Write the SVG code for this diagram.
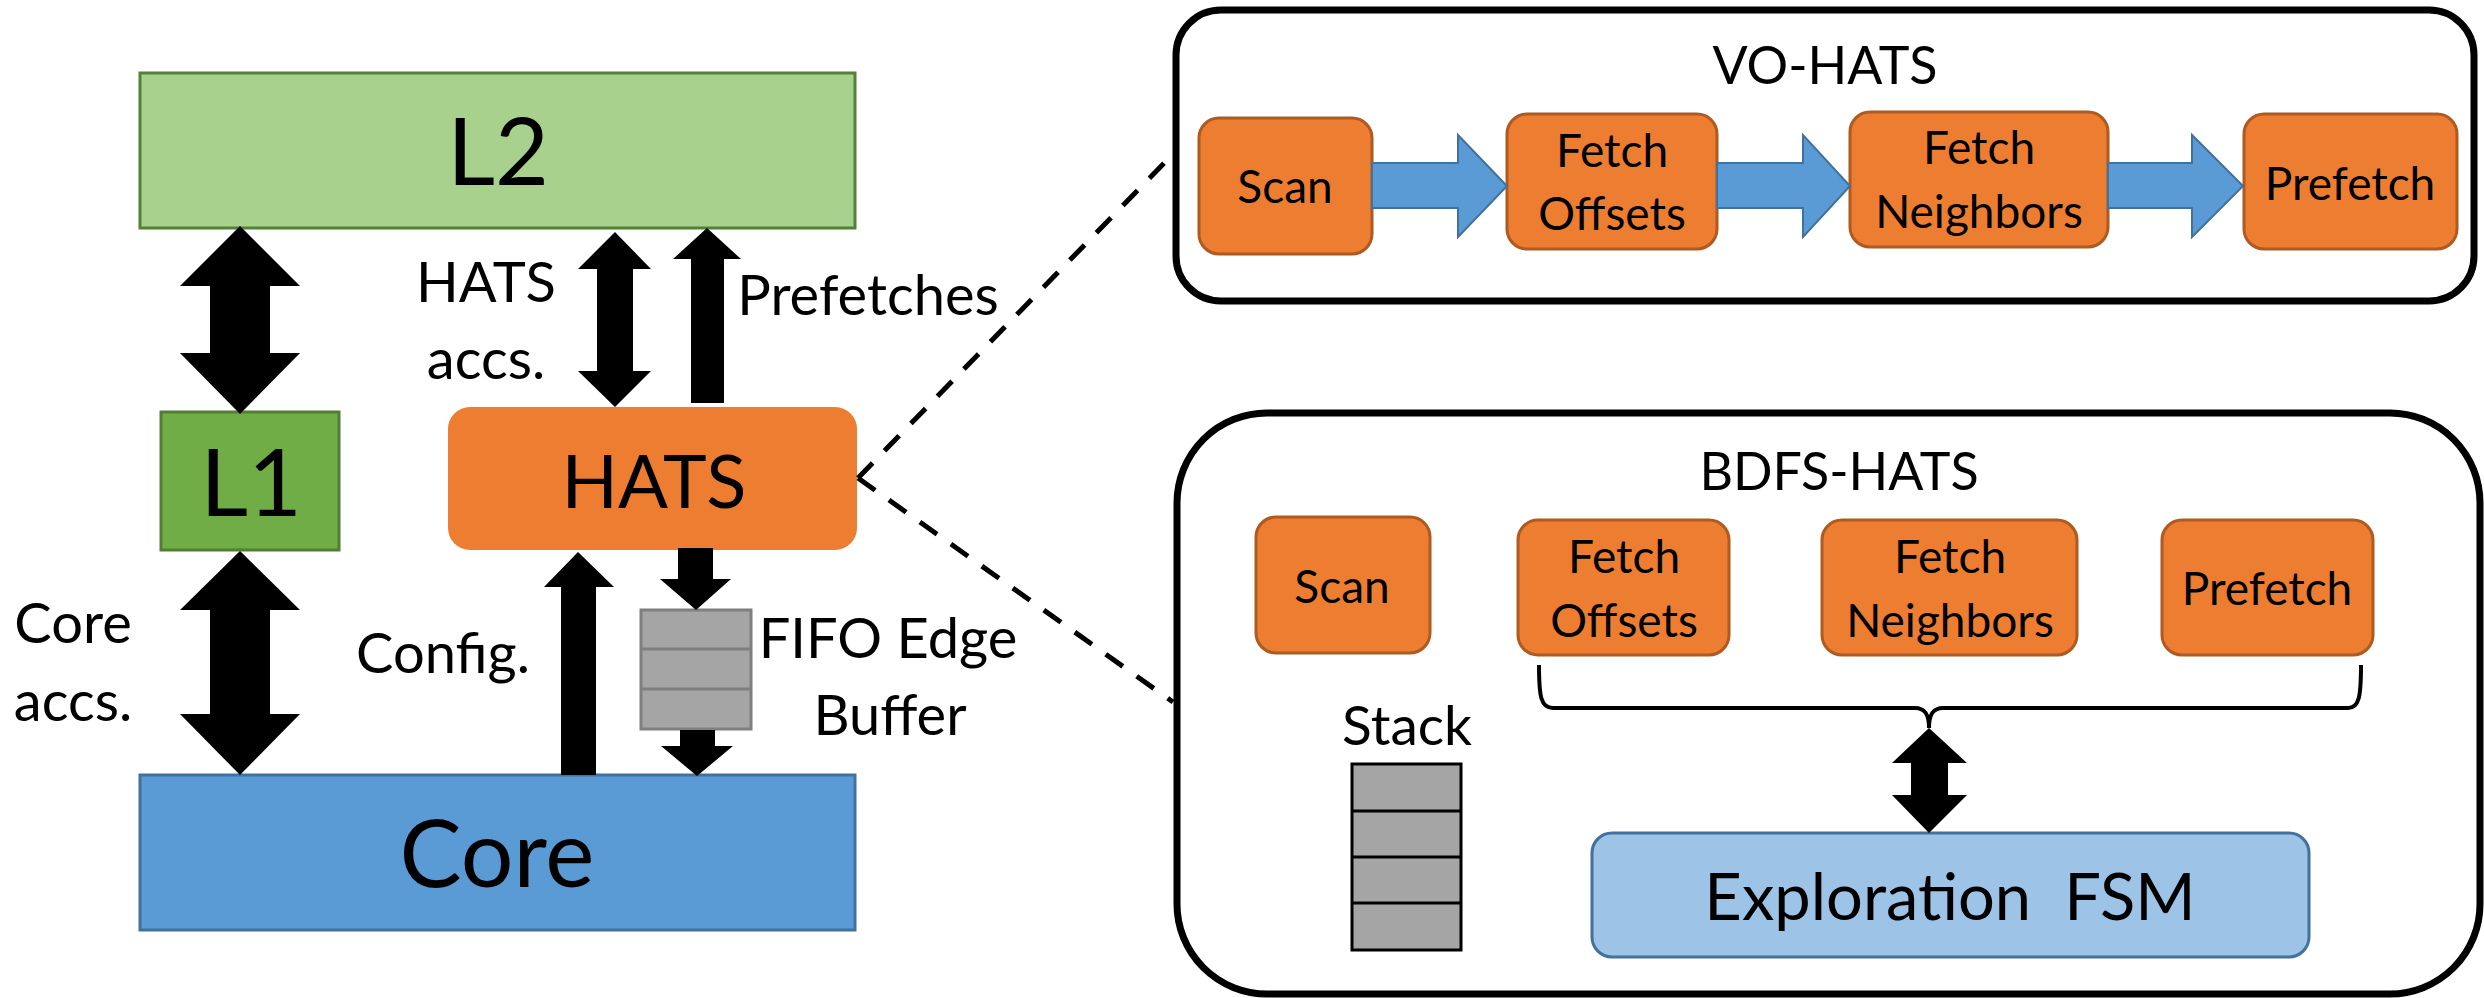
<svg xmlns="http://www.w3.org/2000/svg" width="2484" height="998" viewBox="0 0 2484 998">
<style>
text{font-family:Lato,"Open Sans","Liberation Sans",sans-serif;fill:#000;text-anchor:middle}
.big{font-size:93px}
.hats{font-size:74px}
.lbl{font-size:56px}
.title{font-size:52px}
.box{font-size:46px}
.stage{fill:#ED7D31;stroke:#AE5A21;stroke-width:3}
.blk{fill:#000}
.barrow{fill:#5B9BD5;stroke:#41719C;stroke-width:2}
.dash{fill:none;stroke:#000;stroke-width:5;stroke-dasharray:21 17}
.panel{fill:#fff;stroke:#000;stroke-width:7}
</style>
<rect width="2484" height="998" fill="#fff"/>

<g id="L2">
  <rect x="140" y="73" width="715" height="155" fill="#A9D18E" stroke="#538135" stroke-width="3"/>
  <text class="big" x="498" y="185">L2</text>
</g>
<g id="L1">
  <rect x="161" y="412" width="178" height="138" fill="#70AD47" stroke="#507E32" stroke-width="3"/>
  <text class="big" x="251" y="516">L1</text>
</g>
<g id="HATS">
  <rect x="448" y="407" width="409" height="143" rx="22" fill="#ED7D31"/>
  <text class="hats" x="654" y="508">HATS</text>
</g>
<g id="FIFO">
  <rect x="641" y="610" width="110" height="119" fill="#A5A5A5" stroke="#7F7F7F" stroke-width="3"/>
  <line x1="641" y1="649" x2="751" y2="649" stroke="#7F7F7F" stroke-width="3"/>
  <line x1="641" y1="689" x2="751" y2="689" stroke="#7F7F7F" stroke-width="3"/>
</g>
<g id="Core">
  <rect x="140" y="775" width="715" height="155" fill="#5B9BD5" stroke="#41719C" stroke-width="3"/>
  <text class="big" x="497" y="887">Core</text>
</g>

<g id="labels">
  <text class="lbl" x="486" y="302">HATS</text>
  <text class="lbl" x="486" y="379">accs.</text>
  <text class="lbl" x="868" y="315">Prefetches</text>
  <text class="lbl" x="73" y="643">Core</text>
  <text class="lbl" x="73" y="721">accs.</text>
  <text class="lbl" x="443" y="673">Config.</text>
  <text class="lbl" x="888" y="658">FIFO Edge</text>
  <text class="lbl" x="890" y="735">Buffer</text>
</g>

<g id="VO-HATS">
  <rect class="panel" x="1176" y="10" width="1298" height="291" rx="45"/>
  <text class="title" x="1825" y="84">VO-HATS</text>
</g>
<g id="vo-scan">
  <rect class="stage" x="1199" y="118" width="173" height="136" rx="20"/>
  <text class="box" x="1285" y="203">Scan</text>
</g>
<g id="vo-fetch-offsets">
  <rect class="stage" x="1507" y="114" width="210" height="135" rx="20"/>
  <text class="box" x="1612" y="167">Fetch</text>
  <text class="box" x="1612" y="230">Offsets</text>
</g>
<g id="vo-fetch-neighbors">
  <rect class="stage" x="1850" y="112" width="258" height="135" rx="20"/>
  <text class="box" x="1979" y="164">Fetch</text>
  <text class="box" x="1979" y="228">Neighbors</text>
</g>
<g id="vo-prefetch">
  <rect class="stage" x="2244" y="114" width="213" height="135" rx="20"/>
  <text class="box" x="2350" y="200">Prefetch</text>
</g>

<g id="BDFS-HATS">
  <rect class="panel" x="1177" y="413" width="1303" height="581" rx="90"/>
  <text class="title" x="1839" y="490">BDFS-HATS</text>
</g>
<g id="bdfs-scan">
  <rect class="stage" x="1256" y="517" width="174" height="136" rx="20"/>
  <text class="box" x="1342" y="603">Scan</text>
</g>
<g id="bdfs-fetch-offsets">
  <rect class="stage" x="1518" y="520" width="211" height="135" rx="20"/>
  <text class="box" x="1624" y="573">Fetch</text>
  <text class="box" x="1624" y="637">Offsets</text>
</g>
<g id="bdfs-fetch-neighbors">
  <rect class="stage" x="1822" y="520" width="255" height="135" rx="20"/>
  <text class="box" x="1950" y="573">Fetch</text>
  <text class="box" x="1950" y="637">Neighbors</text>
</g>
<g id="bdfs-prefetch">
  <rect class="stage" x="2162" y="520" width="211" height="135" rx="20"/>
  <text class="box" x="2267" y="605">Prefetch</text>
</g>
<g id="stack">
  <text x="1407" y="745" style="font-size:55px">Stack</text>
  <rect x="1352" y="764" width="109" height="186" fill="#A5A5A5" stroke="#000" stroke-width="3"/>
  <line x1="1352" y1="811" x2="1461" y2="811" stroke="#000" stroke-width="3"/>
  <line x1="1352" y1="857" x2="1461" y2="857" stroke="#000" stroke-width="3"/>
  <line x1="1352" y1="903" x2="1461" y2="903" stroke="#000" stroke-width="3"/>
</g>
<g id="exploration-fsm">
  <rect x="1592" y="833" width="717" height="124" rx="20" fill="#9DC3E6" stroke="#41719C" stroke-width="3"/>
  <text x="1950" y="920" style="font-size:65px;white-space:pre">Exploration  FSM</text>
</g>

<g id="connectors">
  <polygon class="blk" points="240,226 300,286 270,286 270,353 300,353 240,414 180,353 210,353 210,286 180,286"/>
  <polygon class="blk" points="240,551 300,610 270,610 270,714 300,714 240,775 180,714 210,714 210,610 180,610"/>
  <polygon class="blk" points="615,232 651,269 633,269 633,371 651,371 615,407 578,371 597,371 597,269 578,269"/>
  <polygon class="blk" points="707,228 741,259 724,259 724,403 691,403 691,259 673,259"/>
  <polygon class="blk" points="578,552 614,587 596,587 596,775 561,775 561,587 544,587"/>
  <polygon class="blk" points="678,548 713,548 713,579 731,579 696,610 660,579 678,579"/>
  <polygon class="blk" points="680,730 715,730 715,746 733,746 697,776 661,746 680,746"/>
  <path class="dash" d="M858,478 L1172,155"/>
  <path class="dash" d="M858,478 L1173,702"/>
  <polygon class="barrow" points="1372,163 1458,163 1458,135 1507,186 1458,237 1458,208 1372,208"/>
  <polygon class="barrow" points="1717,163 1803,163 1803,135 1850,186 1803,237 1803,208 1717,208"/>
  <polygon class="barrow" points="2108,163 2192,163 2192,135 2243,186 2192,237 2192,208 2108,208"/>
  <path d="M1539,665 C1539,697 1541,708 1553,708 L1915,708 C1926,708 1929,716 1929,728 C1929,716 1932,708 1943,708 L2348,708 C2359,708 2361,697 2361,665" fill="none" stroke="#000" stroke-width="4"/>
  <polygon class="blk" points="1929,728 1967,763 1948,763 1948,795 1967,795 1929,833 1892,795 1911,795 1911,763 1892,763"/>
</g>
</svg>
